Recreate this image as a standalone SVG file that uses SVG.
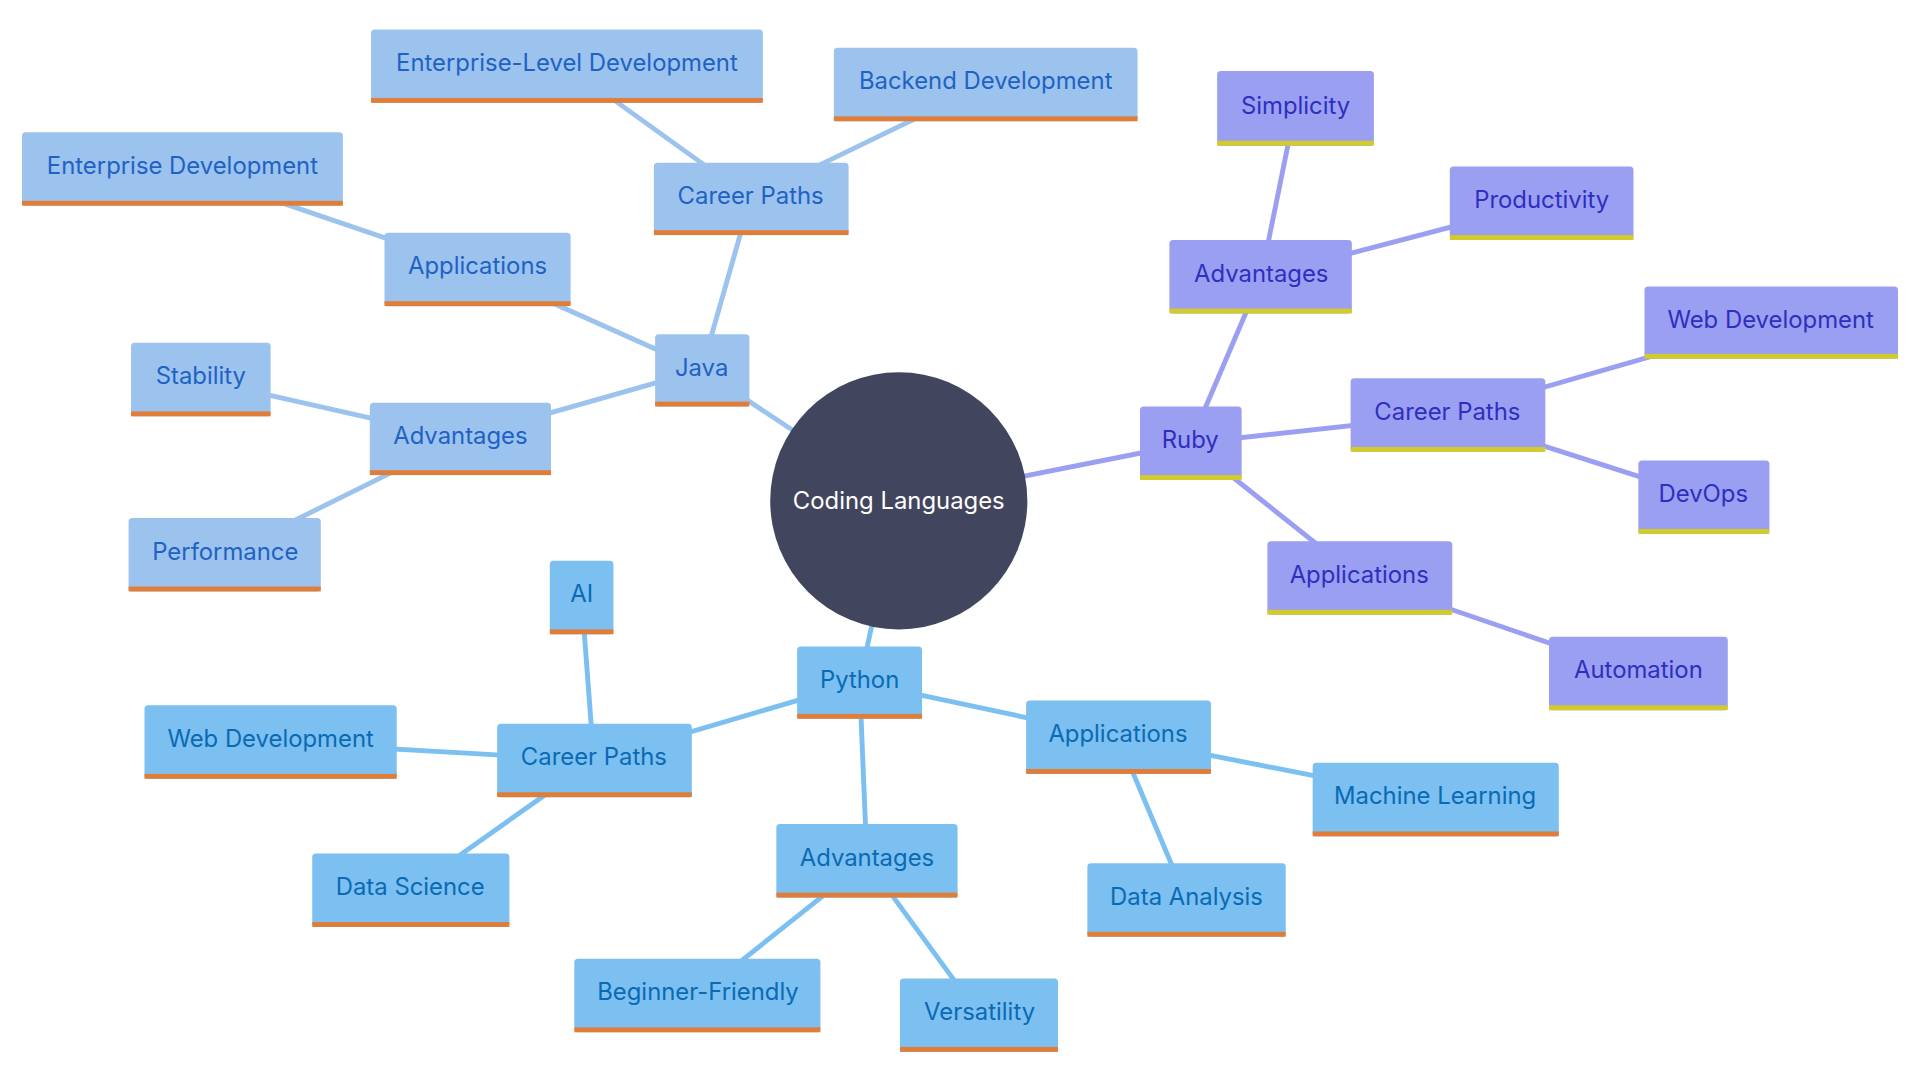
<svg xmlns="http://www.w3.org/2000/svg" width="1920" height="1080" viewBox="0 0 1920 1080">
<style>
text{font-family:Inter,"Noto Sans",sans-serif;font-size:19.5px;text-anchor:middle;dominant-baseline:central}
.j rect.b{fill:#9cc3ee}.j text{fill:#1f62c4}
.p rect.b{fill:#7bc0f0}.p text{fill:#0a6ab4}
.r rect.b{fill:#9b9ff2}.r text{fill:#2e2fbf}
rect.u{fill:#e07d38}.r rect.u{fill:#d2cb2b}
.lj{stroke:#9cc3ee}.lp{stroke:#7bc0f0}.lr{stroke:#9b9ff2}
#edges line{stroke-width:4}
</style>
<rect width="1920" height="1080" fill="#fff"/>
<g transform="scale(1.2245)">
<g id="edges">
<line class="lj" x1="734" y1="409" x2="573" y2="302"/>
<line class="lj" x1="573" y1="302" x2="613" y2="162"/>
<line class="lj" x1="613" y1="162" x2="463" y2="54"/>
<line class="lj" x1="613" y1="162" x2="805" y2="69"/>
<line class="lj" x1="573" y1="302" x2="390" y2="220"/>
<line class="lj" x1="390" y1="220" x2="149" y2="138"/>
<line class="lj" x1="573" y1="302" x2="376" y2="358"/>
<line class="lj" x1="376" y1="358" x2="164" y2="310"/>
<line class="lj" x1="376" y1="358" x2="184" y2="453"/>
<line class="lr" x1="734" y1="409" x2="972" y2="362"/>
<line class="lr" x1="972" y1="362" x2="1030" y2="226"/>
<line class="lr" x1="1030" y1="226" x2="1058" y2="88"/>
<line class="lr" x1="1030" y1="226" x2="1259" y2="166"/>
<line class="lr" x1="972" y1="362" x2="1182" y2="339"/>
<line class="lr" x1="1182" y1="339" x2="1446" y2="263"/>
<line class="lr" x1="1182" y1="339" x2="1391" y2="406"/>
<line class="lr" x1="972" y1="362" x2="1110" y2="472"/>
<line class="lr" x1="1110" y1="472" x2="1338" y2="550"/>
<line class="lp" x1="734" y1="409" x2="702" y2="557"/>
<line class="lp" x1="702" y1="557" x2="485" y2="621"/>
<line class="lp" x1="485" y1="621" x2="475" y2="488"/>
<line class="lp" x1="485" y1="621" x2="221" y2="606"/>
<line class="lp" x1="485" y1="621" x2="335" y2="727"/>
<line class="lp" x1="702" y1="557" x2="708" y2="703"/>
<line class="lp" x1="708" y1="703" x2="570" y2="813"/>
<line class="lp" x1="708" y1="703" x2="800" y2="829"/>
<line class="lp" x1="702" y1="557" x2="913" y2="602"/>
<line class="lp" x1="913" y1="602" x2="1172" y2="653"/>
<line class="lp" x1="913" y1="602" x2="969" y2="735"/>
</g>
<g id="center"><circle cx="734" cy="409" r="105" fill="#41455e"/><text x="734" y="409" fill="#fff" style="fill:#fff">Coding Languages</text></g>
<g id="java" class="j"><rect class="b" x="535" y="273" width="77" height="59" rx="3"/><rect class="u" x="535" y="328" width="77" height="4"/><text x="573" y="300">Java</text></g>
<g id="j-career" class="j"><rect class="b" x="534" y="133" width="159" height="59" rx="3"/><rect class="u" x="534" y="188" width="159" height="4"/><text x="613" y="160">Career Paths</text></g>
<g id="j-eld" class="j"><rect class="b" x="303" y="24" width="320" height="60" rx="3"/><rect class="u" x="303" y="80" width="320" height="4"/><text x="463" y="51">Enterprise-Level Development</text></g>
<g id="j-backend" class="j"><rect class="b" x="681" y="39" width="248" height="60" rx="3"/><rect class="u" x="681" y="95" width="248" height="4"/><text x="805" y="66">Backend Development</text></g>
<g id="j-apps" class="j"><rect class="b" x="314" y="190" width="152" height="60" rx="3"/><rect class="u" x="314" y="246" width="152" height="4"/><text x="390" y="217">Applications</text></g>
<g id="j-ed" class="j"><rect class="b" x="18" y="108" width="262" height="60" rx="3"/><rect class="u" x="18" y="164" width="262" height="4"/><text x="149" y="135">Enterprise Development</text></g>
<g id="j-adv" class="j"><rect class="b" x="302" y="329" width="148" height="59" rx="3"/><rect class="u" x="302" y="384" width="148" height="4"/><text x="376" y="356">Advantages</text></g>
<g id="j-stab" class="j"><rect class="b" x="107" y="280" width="114" height="60" rx="3"/><rect class="u" x="107" y="336" width="114" height="4"/><text x="164" y="307">Stability</text></g>
<g id="j-perf" class="j"><rect class="b" x="105" y="423" width="157" height="60" rx="3"/><rect class="u" x="105" y="479" width="157" height="4"/><text x="184" y="450">Performance</text></g>
<g id="ruby" class="r"><rect class="b" x="931" y="332" width="83" height="60" rx="3"/><rect class="u" x="931" y="388" width="83" height="4"/><text x="972" y="359">Ruby</text></g>
<g id="r-adv" class="r"><rect class="b" x="955" y="196" width="149" height="60" rx="3"/><rect class="u" x="955" y="252" width="149" height="4"/><text x="1030" y="223">Advantages</text></g>
<g id="r-simp" class="r"><rect class="b" x="994" y="58" width="128" height="61" rx="3"/><rect class="u" x="994" y="115" width="128" height="4"/><text x="1058" y="86">Simplicity</text></g>
<g id="r-prod" class="r"><rect class="b" x="1184" y="136" width="150" height="60" rx="3"/><rect class="u" x="1184" y="192" width="150" height="4"/><text x="1259" y="163">Productivity</text></g>
<g id="r-career" class="r"><rect class="b" x="1103" y="309" width="159" height="60" rx="3"/><rect class="u" x="1103" y="365" width="159" height="4"/><text x="1182" y="336">Career Paths</text></g>
<g id="r-web" class="r"><rect class="b" x="1343" y="234" width="207" height="59" rx="3"/><rect class="u" x="1343" y="289" width="207" height="4"/><text x="1446" y="261">Web Development</text></g>
<g id="r-devops" class="r"><rect class="b" x="1338" y="376" width="107" height="60" rx="3"/><rect class="u" x="1338" y="432" width="107" height="4"/><text x="1391" y="403">DevOps</text></g>
<g id="r-apps" class="r"><rect class="b" x="1035" y="442" width="151" height="60" rx="3"/><rect class="u" x="1035" y="498" width="151" height="4"/><text x="1110" y="469">Applications</text></g>
<g id="r-auto" class="r"><rect class="b" x="1265" y="520" width="146" height="60" rx="3"/><rect class="u" x="1265" y="576" width="146" height="4"/><text x="1338" y="547">Automation</text></g>
<g id="python" class="p"><rect class="b" x="651" y="528" width="102" height="59" rx="3"/><rect class="u" x="651" y="583" width="102" height="4"/><text x="702" y="555">Python</text></g>
<g id="p-career" class="p"><rect class="b" x="406" y="591" width="159" height="60" rx="3"/><rect class="u" x="406" y="647" width="159" height="4"/><text x="485" y="618">Career Paths</text></g>
<g id="p-ai" class="p"><rect class="b" x="449" y="458" width="52" height="60" rx="3"/><rect class="u" x="449" y="514" width="52" height="4"/><text x="475" y="485">AI</text></g>
<g id="p-web" class="p"><rect class="b" x="118" y="576" width="206" height="60" rx="3"/><rect class="u" x="118" y="632" width="206" height="4"/><text x="221" y="603">Web Development</text></g>
<g id="p-ds" class="p"><rect class="b" x="255" y="697" width="161" height="60" rx="3"/><rect class="u" x="255" y="753" width="161" height="4"/><text x="335" y="724">Data Science</text></g>
<g id="p-adv" class="p"><rect class="b" x="634" y="673" width="148" height="60" rx="3"/><rect class="u" x="634" y="729" width="148" height="4"/><text x="708" y="700">Advantages</text></g>
<g id="p-bf" class="p"><rect class="b" x="469" y="783" width="201" height="60" rx="3"/><rect class="u" x="469" y="839" width="201" height="4"/><text x="570" y="810">Beginner-Friendly</text></g>
<g id="p-vers" class="p"><rect class="b" x="735" y="799" width="129" height="60" rx="3"/><rect class="u" x="735" y="855" width="129" height="4"/><text x="800" y="826">Versatility</text></g>
<g id="p-apps" class="p"><rect class="b" x="838" y="572" width="151" height="60" rx="3"/><rect class="u" x="838" y="628" width="151" height="4"/><text x="913" y="599">Applications</text></g>
<g id="p-ml" class="p"><rect class="b" x="1072" y="623" width="201" height="60" rx="3"/><rect class="u" x="1072" y="679" width="201" height="4"/><text x="1172" y="650">Machine Learning</text></g>
<g id="p-da" class="p"><rect class="b" x="888" y="705" width="162" height="60" rx="3"/><rect class="u" x="888" y="761" width="162" height="4"/><text x="969" y="732">Data Analysis</text></g>
</g>
</svg>
